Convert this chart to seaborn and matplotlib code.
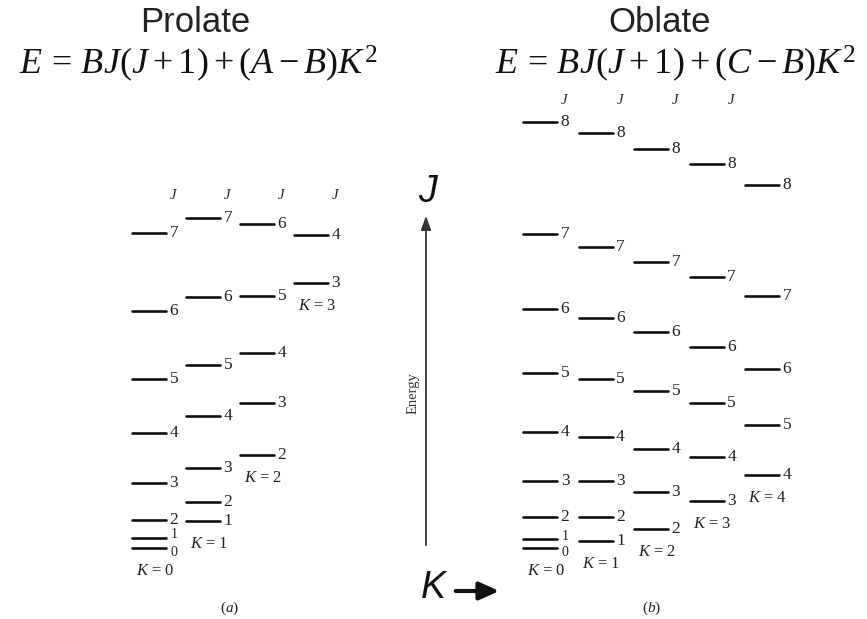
import matplotlib
matplotlib.use("Agg")
import matplotlib.pyplot as plt
import seaborn as sns
import pandas as pd

# ---------------- data (energies, arbitrary units above J=0) -------------
prolate_K = [0, 1, 2, 3]
prolate_J = [
    [0, 1, 2, 3, 4, 5, 6, 7],
    [1, 2, 3, 4, 5, 6, 7],
    [2, 3, 4, 5, 6],
    [3, 4],
]
prolate_E = [
    [0, 10, 28, 65, 115, 169, 237, 315],
    [27, 46, 80, 132, 183, 251, 330],
    [93, 145, 195, 252, 324],
    [265, 313],
]

oblate_K = [0, 1, 2, 3, 4]
oblate_J = [
    [0, 1, 2, 3, 4, 5, 6, 7, 8],
    [1, 2, 3, 4, 5, 6, 7, 8],
    [2, 3, 4, 5, 6, 7, 8],
    [3, 4, 5, 6, 7, 8],
    [4, 5, 6, 7, 8],
]
oblate_E = [
    [0, 9, 31, 67, 116, 175, 239, 314, 426],
    [7, 31, 67, 111, 169, 230, 301, 415],
    [19, 56, 99, 157, 216, 286, 399],
    [47, 91, 145, 201, 271, 384],
    [73, 123, 179, 252, 363],
]

titles = ["Prolate", "Oblate"]
equations = [r"$E\,=\,BJ(J+1)+(A-B)K^2$", r"$E\,=\,BJ(J+1)+(C-B)K^2$"]
panel_tags = [r"$(a)$", r"$(b)$"]

# ---------------- style ----------------
sns.set_theme(style="white")
plt.rcParams["mathtext.fontset"] = "custom"
plt.rcParams["mathtext.rm"] = "Liberation Serif"
plt.rcParams["mathtext.it"] = "Liberation Serif:italic"
plt.rcParams["font.family"] = ["Liberation Serif", "DejaVu Sans"]

W, H = 867, 619
fig = plt.figure(figsize=(W / 100, H / 100), dpi=100)
ax = fig.add_axes([0, 0, 1, 1])
base = 548  # pixel row of the J=0 level
ax.set_xlim(0, W)
ax.set_ylim(base - H, base)
ax.axis("off")

SERIF = "Liberation Serif"
SANS = "Liberation Sans"

def yfig(py):
    """convert a pixel row (from top) to data y"""
    return base - py

panels = [
    dict(K=prolate_K, J=prolate_J, E=prolate_E, x0=132, dx=54, L=34, jhead_y=195, nhead=4,
         title_x=195, eq_x=198, tag_x=230),
    dict(K=oblate_K, J=oblate_J, E=oblate_E, x0=523, dx=55.5, L=34, jhead_y=100, nhead=4,
         title_x=660, eq_x=675, tag_x=652),
]

rows = []
lvl = 0
for p in panels:
    for ci, k in enumerate(p["K"]):
        xs = p["x0"] + ci * p["dx"]
        for j, e in zip(p["J"][ci], p["E"][ci]):
            rows.append(dict(x=xs, E=e, level=lvl))
            rows.append(dict(x=xs + p["L"], E=e, level=lvl))
            lvl += 1
df = pd.DataFrame(rows)
sns.lineplot(data=df, x="x", y="E", units="level", estimator=None, color="#111111",
             lw=1.9, ax=ax, legend=False)

for pi, p in enumerate(panels):
    for ci, k in enumerate(p["K"]):
        xs = p["x0"] + ci * p["dx"]
        xe = xs + p["L"]
        for j, e in zip(p["J"][ci], p["E"][ci]):
            dy = 0
            if k == 0 and j == 1:
                dy = 3
            elif k == 0 and j == 0:
                dy = -4
            fs = 10 if (k == 0 and j in (0, 1)) else 12.5
            ax.text(xe + 8, e + dy, str(j), fontsize=fs, family=SERIF,
                    ha="center", va="center", color="#222222")
        lowest = min(p["E"][ci])
        ax.text(xs + p["L"] / 2 + 6, lowest - 23, rf"$K$ = {k}", fontsize=12,
                family=SERIF, ha="center", va="center", color="#222222")
        if ci < p["nhead"]:
            ax.text(xe + 8, yfig(p["jhead_y"]), r"$J$", fontsize=10.5, ha="center",
                    va="center", color="#222222")
    ax.text(p["title_x"], yfig(22), titles[pi], fontsize=25, family=SANS,
            ha="center", va="center", color="#222222")
    ax.text(p["eq_x"], yfig(64), equations[pi], fontsize=26, ha="center",
            va="center", color="#111111")
    ax.text(p["tag_x"], yfig(608), panel_tags[pi], fontsize=11,
            ha="center", va="center", color="#222222")

# Energy axis arrow
ax.annotate("", xy=(426, yfig(213)), xytext=(426, yfig(548)),
            arrowprops=dict(arrowstyle="-|>,head_length=0.7,head_width=0.25",
                            color="#333333", lw=1.3))
ax.text(413, yfig(393), "Energy", rotation=90, fontsize=10.5, family=SERIF,
        ha="center", va="center", color="#333333")
ax.text(427, yfig(192), "J", fontsize=27, family=SANS, style="italic",
        ha="center", va="center", color="#111111")
ax.text(433, yfig(588), "K", fontsize=27, family=SANS, style="italic",
        ha="center", va="center", color="#111111")
ax.annotate("", xy=(502, yfig(591)), xytext=(453, yfig(591)),
            arrowprops=dict(arrowstyle="-|>,head_length=1.0,head_width=0.45",
                            color="#111111", lw=3))

fig.savefig("out.png", dpi=100)
